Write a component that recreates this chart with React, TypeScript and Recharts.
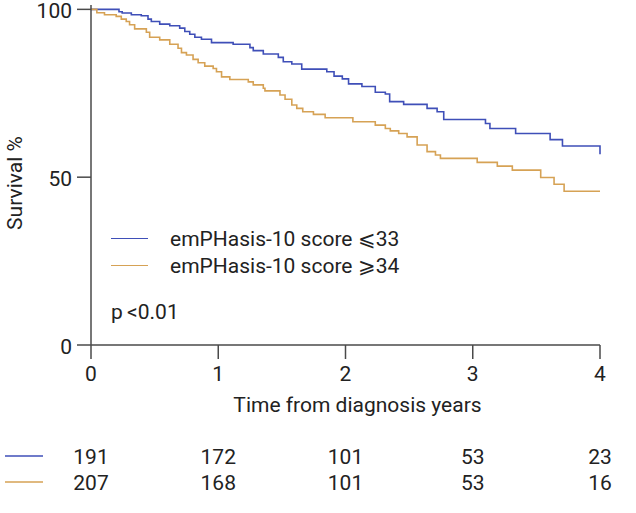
import React from 'react';
import { LineChart, Line, XAxis, YAxis, Legend, Label } from 'recharts';

// Kaplan-Meier steps (time in years, survival %)
const blueTimes = [0, 0.22, 0.245, 0.317, 0.395, 0.448, 0.474, 0.54, 0.619, 0.697, 0.737, 0.776, 0.816, 0.868, 0.947, 1.117, 1.249, 1.275, 1.354, 1.472, 1.511, 1.578, 1.656, 1.853, 1.91, 1.975, 2.024, 2.129, 2.234, 2.313, 2.347, 2.457, 2.641, 2.72, 2.772, 3.1, 3.135, 3.337, 3.608, 3.705, 4];
const blueSurvival = [100, 99.3, 98.9, 98.4, 98.1, 97.1, 96.4, 95.6, 95.1, 94.4, 93.4, 92.6, 91.7, 91.1, 90.1, 89.6, 88.6, 87.7, 86.7, 85.7, 84.4, 83.7, 82.2, 81.4, 80.1, 79.3, 77.8, 77.0, 75.3, 74.8, 72.5, 71.7, 70.5, 69.5, 67.2, 66.0, 64.5, 63.0, 61.2, 59.3, 56.8];

const orangeTimes = [0, 0.046, 0.106, 0.198, 0.238, 0.277, 0.303, 0.343, 0.435, 0.461, 0.54, 0.619, 0.684, 0.711, 0.75, 0.802, 0.842, 0.894, 0.96, 0.986, 1.026, 1.091, 1.236, 1.275, 1.354, 1.367, 1.485, 1.525, 1.578, 1.617, 1.664, 1.748, 1.84, 2.058, 2.234, 2.313, 2.352, 2.418, 2.484, 2.563, 2.641, 2.707, 2.746, 3.035, 3.193, 3.311, 3.534, 3.639, 3.718, 4];
const orangeSurvival = [100, 99.0, 98.4, 97.9, 97.1, 96.4, 95.4, 94.2, 93.2, 91.7, 90.9, 89.6, 88.4, 87.1, 86.4, 85.1, 84.1, 83.1, 82.4, 81.4, 79.9, 79.1, 78.4, 77.5, 76.5, 75.7, 74.5, 73.2, 71.5, 70.5, 69.5, 68.7, 67.7, 66.5, 65.5, 64.5, 63.8, 63.0, 62.0, 59.6, 57.6, 56.6, 55.6, 54.4, 53.3, 52.1, 49.9, 47.9, 45.8, 45.8];

const yearTicks = [0, 1, 2, 3, 4];
const survivalTicks = [0, 50, 100];
const riskBlue = [191, 172, 101, 53, 23];
const riskOrange = [207, 168, 101, 53, 16];
const seriesNames = ['emPHasis-10 score \u2A7D33', 'emPHasis-10 score \u2A7E34'];

const BLUE = '#3f4fb8';
const ORANGE = '#d6a255';
const AXIS = '#4a4a4a';
const TEXT = '#222';
const FONT = 'Roboto, sans-serif';
const FS = 21;

const toPoints = (times: number[], values: number[]) =>
  times.map((t, i) => ({ t, s: values[i] }));

const bluePoints = toPoints(blueTimes, blueSurvival);
const orangePoints = toPoints(orangeTimes, orangeSurvival);

// tick renderer for a number-at-risk row
const riskTick = (counts: number[], color: string) => (props: any) => {
  const { x, y, payload, index } = props;
  const cy = y + 13;
  return (
    <g>
      {index === 0 && <line x1={5} x2={43} y1={cy} y2={cy} stroke={color} strokeWidth={1.5} />}
      <text x={x} y={cy} dy="0.36em" textAnchor="middle" fontSize={FS} fill={TEXT} fontFamily={FONT}>
        {counts[yearTicks.indexOf(payload.value)]}
      </text>
    </g>
  );
};

// y ticks, nudged a little down like the reference
const yTick = (props: any) => {
  const { x, y, payload } = props;
  return (
    <text x={x} y={y + 1.5} dy="0.36em" textAnchor="end" fontSize={FS} fill={TEXT} fontFamily={FONT}>
      {payload.value}
    </text>
  );
};

const renderLegend = (props: any) => {
  const { payload } = props;
  return (
    <div style={{ fontFamily: FONT, fontSize: FS, color: TEXT }}>
      {(payload || []).map((entry: any) => (
        <div key={entry.value} style={{ display: 'flex', alignItems: 'center', height: 27 }}>
          <span style={{ display: 'inline-block', width: 37, borderTop: `1.5px solid ${entry.color}`, marginRight: 22 }} />
          <span>{entry.value}</span>
        </div>
      ))}
      <div style={{ marginTop: 20, lineHeight: '27px' }}>p{'\u2009'}&lt;0.01</div>
    </div>
  );
};

const riskAxisProps = {
  type: 'number' as const,
  dataKey: 't',
  domain: [0, 4],
  allowDataOverflow: true,
  ticks: yearTicks,
  interval: 0,
  height: 26,
  axisLine: false,
  tickLine: false,
  tickSize: 0,
  tickMargin: 0,
};

const App = () => {
  return (
    <div style={{ position: 'absolute', left: 0, top: 0, background: '#fff' }}>
      <LineChart width={636} height={513} margin={{ top: 5, right: 36, left: 0, bottom: 18 }}>
        <XAxis
          dataKey="t"
          type="number"
          domain={[0, 4]}
          ticks={yearTicks}
          interval={0}
          height={98}
          stroke={AXIS}
          strokeWidth={1.5}
          tickSize={14}
          tickMargin={7}
          tick={{ fontSize: FS, fill: TEXT, fontFamily: FONT }}
        >
          <Label
            content={(p: any) => {
              const vb = p.viewBox;
              return (
                <text x={vb.x + vb.width / 2 + 12} y={vb.y + 67} textAnchor="middle" fontSize={FS} fill={TEXT} fontFamily={FONT}>
                  Time from diagnosis years
                </text>
              );
            }}
          />
        </XAxis>
        <XAxis xAxisId="riskBlue" {...riskAxisProps} tick={riskTick(riskBlue, BLUE)} />
        <XAxis xAxisId="riskOrange" {...riskAxisProps} tick={riskTick(riskOrange, ORANGE)} />
        <YAxis
          type="number"
          domain={[0, 101.3]}
          ticks={survivalTicks}
          interval={0}
          width={91}
          stroke={AXIS}
          strokeWidth={1.5}
          tickSize={14}
          tickMargin={5}
          tick={yTick}
        >
          <Label
            content={(p: any) => {
              const vb = p.viewBox;
              const cx = 15;
              const cy = vb.y + vb.height / 2 + 8;
              return (
                <text
                  transform={`translate(${cx},${cy}) rotate(-90)`}
                  textAnchor="middle"
                  dominantBaseline="central"
                  fontSize={FS}
                  fill={TEXT}
                  fontFamily={FONT}
                >
                  Survival %
                </text>
              );
            }}
          />
        </YAxis>
        <Legend
          layout="vertical"
          align="center"
          verticalAlign="middle"
          content={renderLegend}
          wrapperStyle={{ position: 'absolute', left: 111, top: 225, width: 340 }}
        />
        <Line
          data={bluePoints}
          dataKey="s"
          name={seriesNames[0]}
          type="stepAfter"
          stroke={BLUE}
          strokeWidth={1.6}
          dot={false}
          isAnimationActive={false}
        />
        <Line
          data={orangePoints}
          dataKey="s"
          name={seriesNames[1]}
          type="stepAfter"
          stroke={ORANGE}
          strokeWidth={1.6}
          dot={false}
          isAnimationActive={false}
        />
      </LineChart>
    </div>
  );
};

export default App;
